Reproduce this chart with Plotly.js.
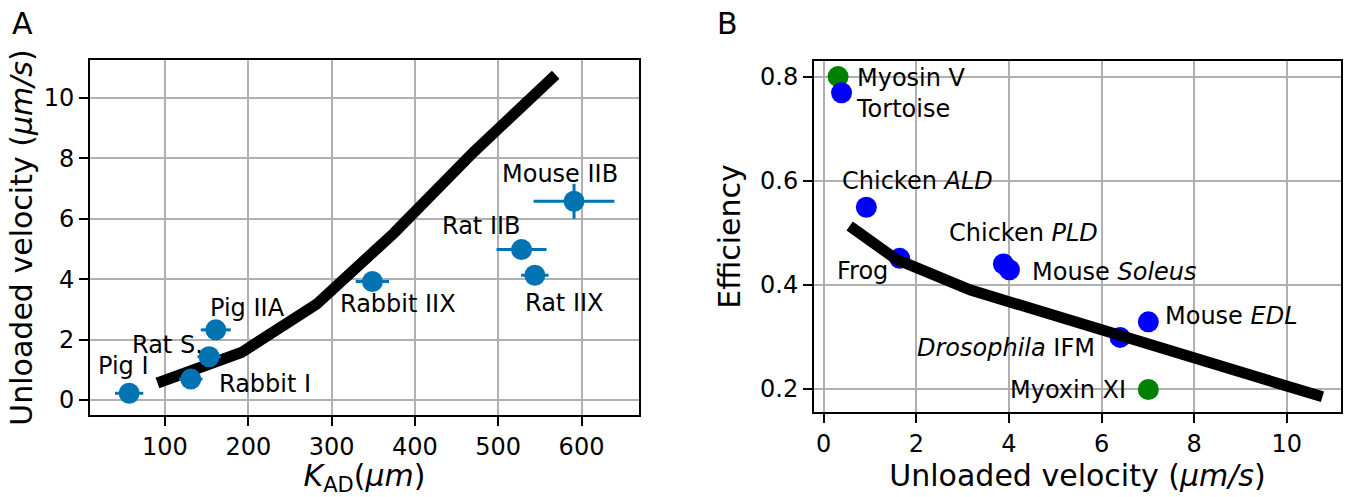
<!DOCTYPE html>
<html><head><meta charset="utf-8">
<script src="https://cdn.plot.ly/plotly-3.0.1.min.js"></script>
<style>html,body{margin:0;padding:0;background:#fff;} #chart{width:1349px;height:497px;}</style>
</head><body><div id="chart"></div>
<script>
// ---- Panel A data ----
const musclesA = ['Pig I','Rabbit I','Rat S.','Pig IIA','Rabbit IIX','Rat IIB','Rat IIX','Mouse IIB'];
const kAD = [57, 131, 153, 161, 349, 528, 544, 591];
const kADErr = [17, 14, 14, 18, 20, 30, 16.5, 48.5];
const velocityA = [0.22, 0.69, 1.43, 2.32, 3.92, 4.98, 4.13, 6.58];
const velocityAErr = [0.1, 0.1, 0.1, 0.1, 0.1, 0.15, 0.1, 0.58];
// model curve (shared)
const modelKAD = [91, 191.7, 282, 375, 470, 569];
const modelVelocity = [0.56, 1.57, 3.17, 5.53, 8.2, 10.77];
const modelEfficiency = [0.513, 0.449, 0.390, 0.327, 0.255, 0.185];
// ---- Panel B data ----
const motorsB = ['Myosin V','Tortoise','Chicken <i>ALD</i>','Frog','Chicken <i>PLD</i>','Mouse <i>Soleus</i>','<i>Drosophila</i> IFM','Mouse <i>EDL</i>','Myoxin XI'];
const velocityB = [0.31, 0.385, 0.92, 1.64, 3.88, 4.01, 6.40, 7.01, 7.01];
const efficiencyB = [0.80, 0.769, 0.549, 0.451, 0.440, 0.429, 0.299, 0.329, 0.199];
const kindB = ['other','muscle','muscle','muscle','muscle','muscle','muscle','muscle','other'];

// ---- styles / label offsets (px) ----
const FONT = 'DejaVu Sans, sans-serif';
const labelShiftA = [[-6,27.5],[74,-4.8],[-42,11.8],[32,21.4],[26,-22.7],[-40,23.3],[30,-27.5],[-14,27.5]];
const labelShiftB = [[73,-1.6],[61,-16.7],[51,26],[-37,-13],[20,30.7],[105,-2.6],[-114,-10.9],[83,5.7],[-80,-0.5]];
const kindColor = {muscle:'#0000ff', other:'#008000'};

const traces = [
  {x: modelKAD, y: modelVelocity, xaxis:'x', yaxis:'y', mode:'lines', line:{color:'#000', width:11}, hoverinfo:'skip'},
  {x: kAD, y: velocityA, xaxis:'x', yaxis:'y', mode:'markers', text: musclesA,
   marker:{color:'#0173b2', size:21},
   error_x:{type:'data', array:kADErr, visible:true, color:'#0173b2', thickness:3, width:0},
   error_y:{type:'data', array:velocityAErr, visible:true, color:'#0173b2', thickness:3, width:0}},
  {x: velocityB, y: efficiencyB, xaxis:'x2', yaxis:'y2', mode:'markers', text: motorsB,
   marker:{color: kindB.map(k=>kindColor[k]), size:21}},
  {x: modelVelocity, y: modelEfficiency, xaxis:'x2', yaxis:'y2', mode:'lines', line:{color:'#000', width:11}, hoverinfo:'skip'}
];

const ann = [];
musclesA.forEach((t,i)=>ann.push({text:t, x:kAD[i], y:velocityA[i], xref:'x', yref:'y', showarrow:false,
  xanchor:'center', yanchor:'middle', xshift:labelShiftA[i][0], yshift:labelShiftA[i][1], font:{family:FONT, size:24, color:'#000'}}));
motorsB.forEach((t,i)=>ann.push({text:t, x:velocityB[i], y:efficiencyB[i], xref:'x2', yref:'y2', showarrow:false,
  xanchor:'center', yanchor:'middle', xshift:labelShiftB[i][0], yshift:labelShiftB[i][1], font:{family:FONT, size:24, color:'#000'}}));
ann.push({text:'A', x:23/1349, y:1-24/497, xref:'paper', yref:'paper', showarrow:false, xanchor:'center', yanchor:'middle', font:{family:FONT, size:30, color:'#000'}});
ann.push({text:'B', x:727/1349, y:1-24/497, xref:'paper', yref:'paper', showarrow:false, xanchor:'center', yanchor:'middle', font:{family:FONT, size:30, color:'#000'}});

const axisCommon = {
  ticks:'outside', ticklen:9, tickwidth:2, tickcolor:'#000',
  showline:true, linewidth:2, linecolor:'#000', mirror:true,
  showgrid:true, gridcolor:'#b0b0b0', gridwidth:2, zeroline:false,
  tickfont:{family:FONT, size:24, color:'#000'}, automargin:false
};
const titleFont = {family:FONT, size:30, color:'#000'};

const layout = {
  width:1349, height:497, margin:{l:0,r:0,t:0,b:0},
  paper_bgcolor:'#fff', plot_bgcolor:'#fff', showlegend:false,
  font:{family:FONT, color:'#000'},
  xaxis: Object.assign({}, axisCommon, {domain:[90/1349, 639/1349], anchor:'y', range:[10,669], dtick:100, tick0:0,
    title:{text:'<i>K</i><sub>AD</sub>(<i>μm</i>)', font:titleFont, standoff:8}}),
  yaxis: Object.assign({}, axisCommon, {domain:[1-415/497, 1-60/497], anchor:'x', range:[-0.5,11.26], dtick:2, tick0:0,
    title:{text:'Unloaded velocity (<i>μm/s</i>)', font:titleFont, standoff:2}}),
  xaxis2: Object.assign({}, axisCommon, {domain:[814/1349, 1341/1349], anchor:'y2', range:[-0.21,11.17], dtick:2, tick0:0,
    title:{text:'Unloaded velocity (<i>μm/s</i>)', font:titleFont, standoff:8}}),
  yaxis2: Object.assign({}, axisCommon, {domain:[1-412/497, 1-61/497], anchor:'x2', range:[0.1558,0.830], dtick:0.2, tick0:0, tickformat:'.1f',
    title:{text:'Efficiency', font:titleFont, standoff:11}}),
  annotations: ann
};

Plotly.newPlot('chart', traces, layout, {displayModeBar:false, staticPlot:true});
</script>
</body></html>
